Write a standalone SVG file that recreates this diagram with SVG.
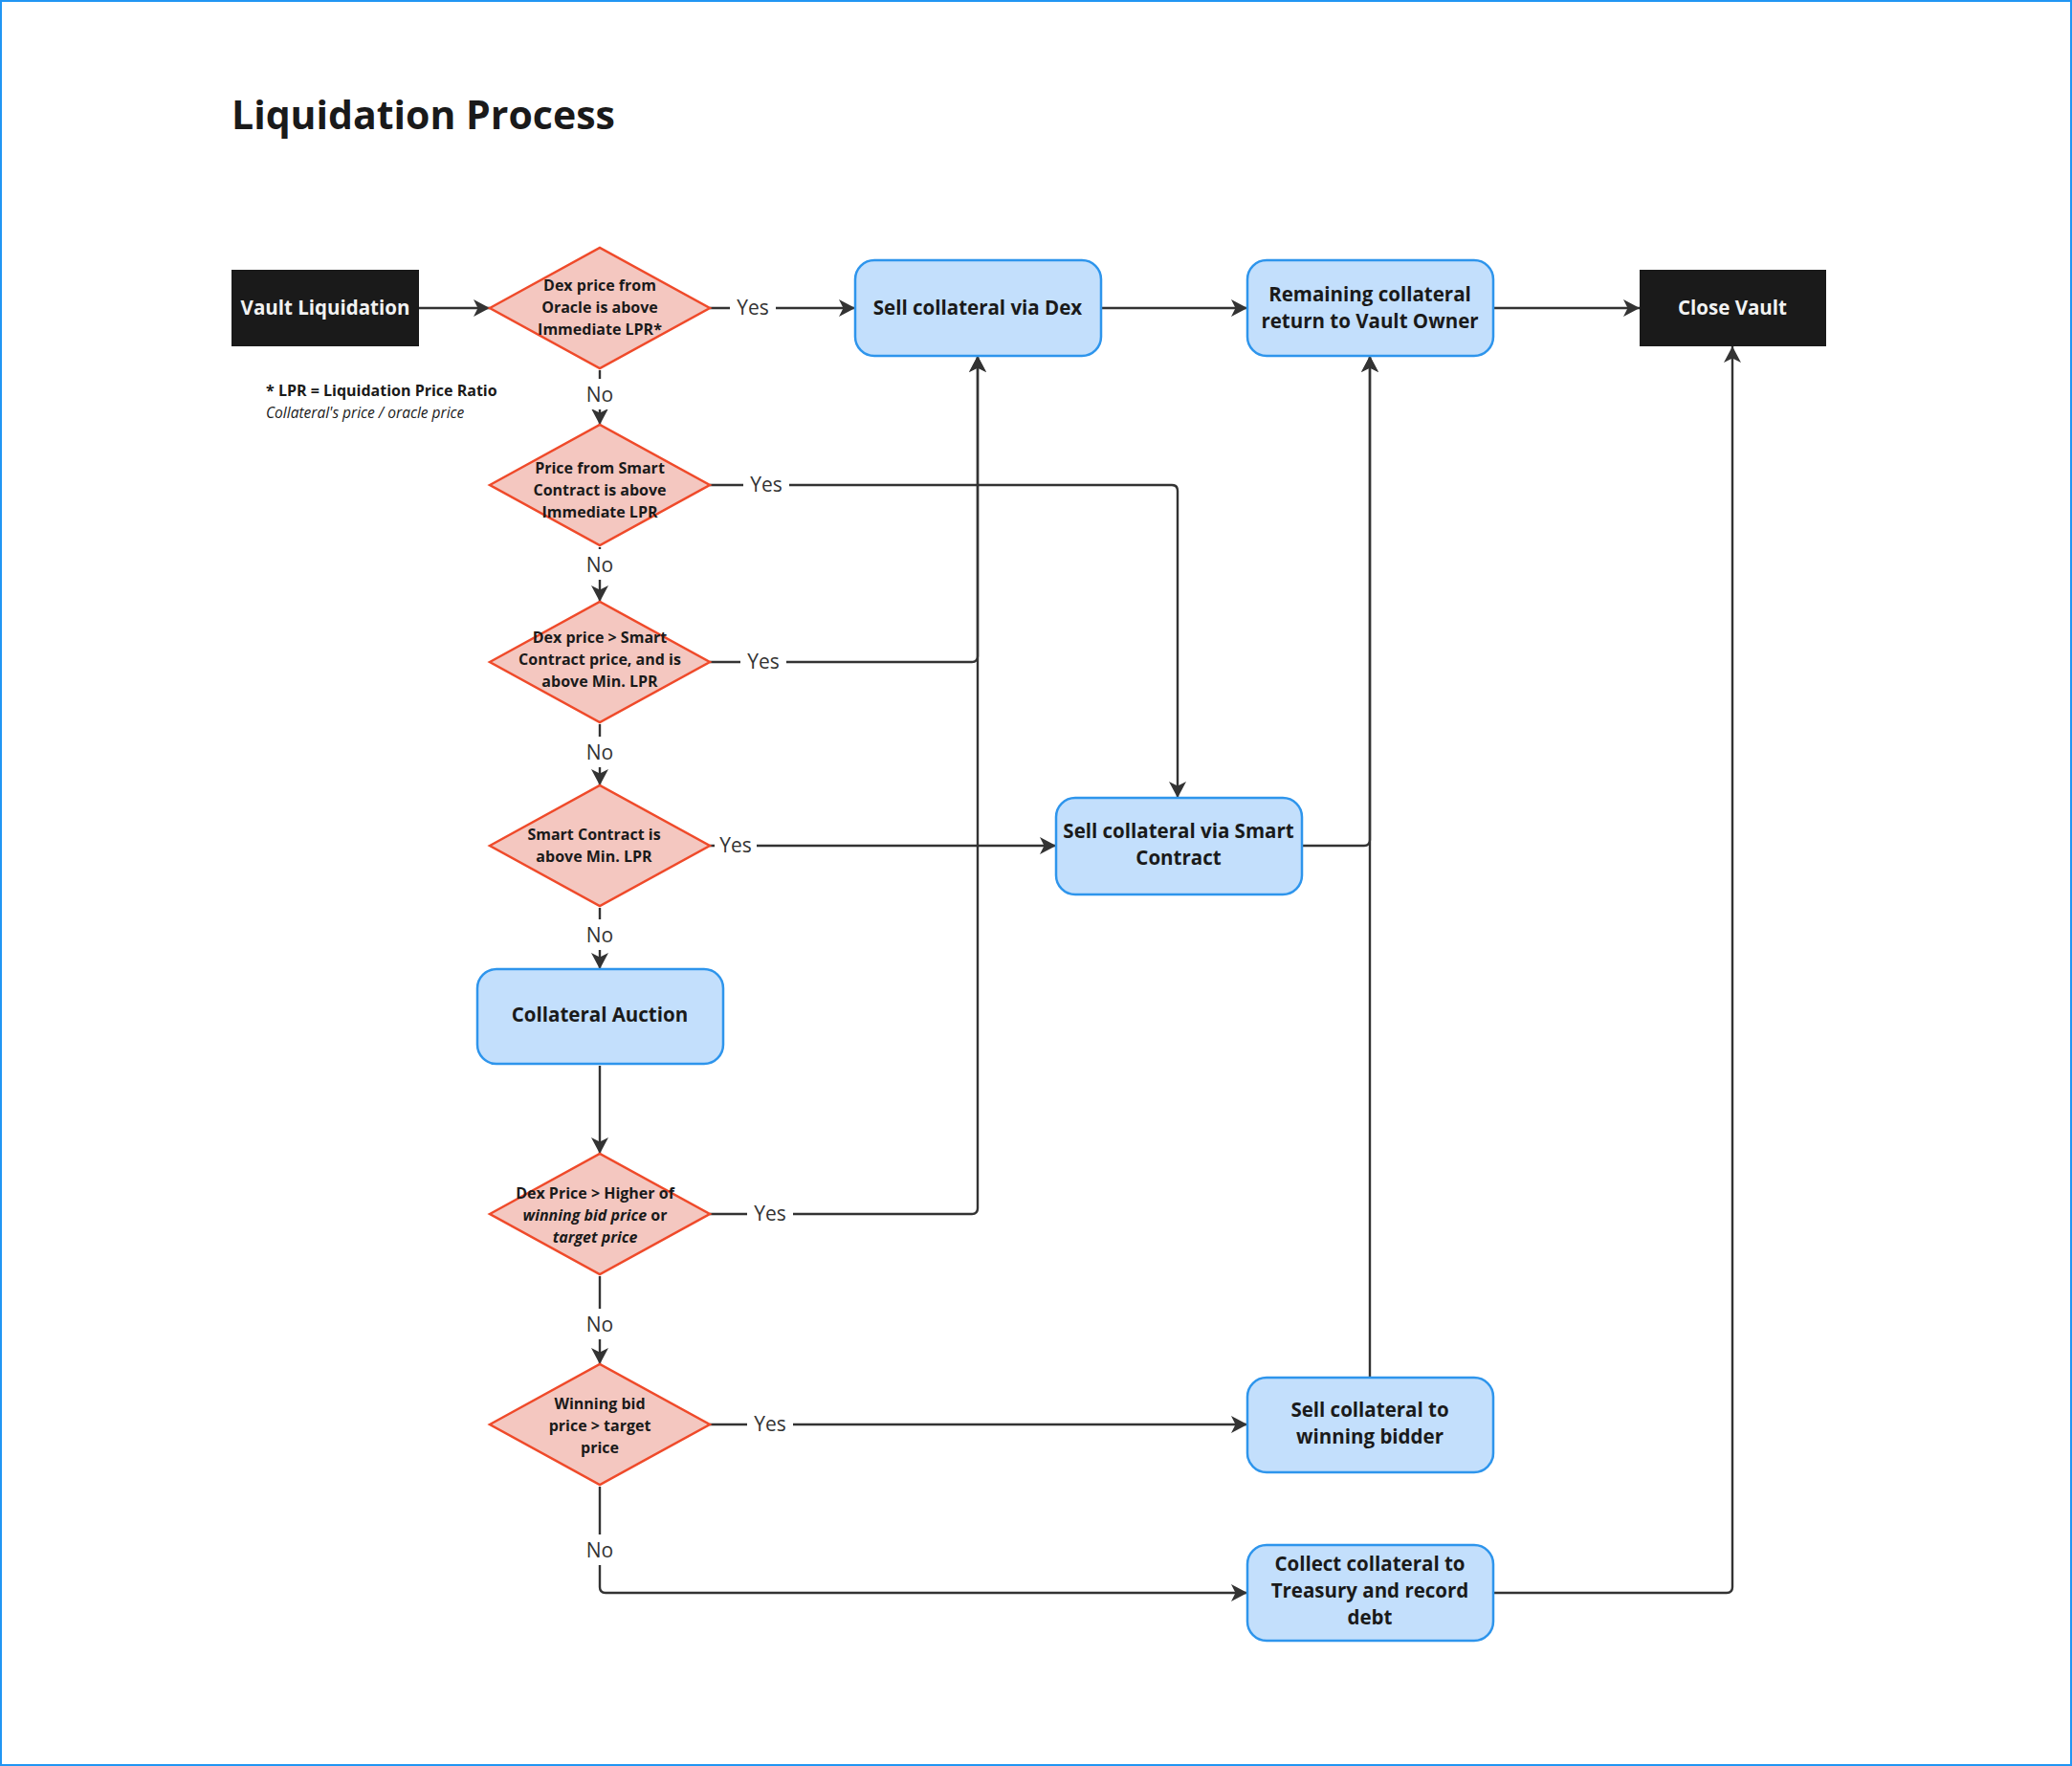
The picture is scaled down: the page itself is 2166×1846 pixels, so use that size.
<svg xmlns="http://www.w3.org/2000/svg" width="2166" height="1846" viewBox="0 0 2166 1846">
<style>
text{font-family:"Open Sans","Noto Sans","Liberation Sans",sans-serif}
.title{font-size:41px;font-weight:700;fill:#1a1a1a}
.dark rect{fill:#1a1a1a}
.dark text{fill:#f2f2f2;font-size:20.5px;font-weight:700;text-anchor:middle}
.proc rect{fill:#c3dffc;stroke:#2e95ec;stroke-width:2.5}
.proc text{fill:#1a1a1a;font-size:20.5px;font-weight:700;text-anchor:middle}
.dec polygon{fill:#f4c7c0;stroke:#ef4a2a;stroke-width:2.5}
.dec text{fill:#1a1a1a;font-size:16px;font-weight:700;text-anchor:middle}
.conn path{fill:none;stroke:#333;stroke-width:2.4}
.lbl rect{fill:#fff}
.lbl text{fill:#333;font-size:21px;text-anchor:middle}
.note{fill:#1a1a1a}
</style>
<defs>
<marker id="ah" markerUnits="userSpaceOnUse" markerWidth="20" markerHeight="20" refX="17" refY="9" orient="auto">
<path d="M0,0 L17,9 L0,18 L4.5,9 z" fill="#333"/>
</marker>
</defs>
<rect x="1" y="1" width="2164" height="1844" fill="#fff" stroke="#2196f3" stroke-width="2"/>
<text class="title" x="242" y="135">Liquidation Process</text>
<g id="footnote">
<text class="note" x="278" y="414" font-weight="700" font-size="16px">* LPR = Liquidation Price Ratio</text>
<text class="note" x="278" y="437" font-style="italic" font-size="15.5px">Collateral's price / oracle price</text>
</g>
<g id="connectors" class="conn">
<path d="M438,322 H512" marker-end="url(#ah)"/>
<path d="M742,322 H894" marker-end="url(#ah)"/>
<path d="M1151,322 H1304" marker-end="url(#ah)"/>
<path d="M1561,322 H1714" marker-end="url(#ah)"/>
<path d="M627,387 V444" marker-end="url(#ah)"/>
<path d="M742,507 H1225 Q1231,507 1231,513 V834" marker-end="url(#ah)"/>
<path d="M627,572 V629" marker-end="url(#ah)"/>
<path d="M742,692 H1016 Q1022,692 1022,686 V372" marker-end="url(#ah)"/>
<path d="M627,757 V821" marker-end="url(#ah)"/>
<path d="M742,884 H1104" marker-end="url(#ah)"/>
<path d="M627,949 V1013" marker-end="url(#ah)"/>
<path d="M627,1114 V1206" marker-end="url(#ah)"/>
<path d="M742,1269 H1016 Q1022,1269 1022,1263 V372" marker-end="url(#ah)"/>
<path d="M627,1334 V1426" marker-end="url(#ah)"/>
<path d="M742,1489 H1304" marker-end="url(#ah)"/>
<path d="M627,1554 V1659 Q627,1665 633,1665 H1304" marker-end="url(#ah)"/>
<path d="M1361,884 H1426 Q1432,884 1432,878 V372" marker-end="url(#ah)"/>
<path d="M1432,1440 V372" marker-end="url(#ah)"/>
<path d="M1561,1665 H1805 Q1811,1665 1811,1659 V362" marker-end="url(#ah)"/>
</g>
<g id="labels" class="lbl">
<rect x="763" y="309" width="48" height="26"/><text x="787" y="329">Yes</text>
<rect x="777" y="494" width="48" height="26"/><text x="801" y="514">Yes</text>
<rect x="774" y="679" width="48" height="26"/><text x="798" y="699">Yes</text>
<rect x="747" y="871" width="44" height="26"/><text x="769" y="891">Yes</text>
<rect x="781" y="1256" width="48" height="26"/><text x="805" y="1276">Yes</text>
<rect x="781" y="1476" width="48" height="26"/><text x="805" y="1496">Yes</text>
<rect x="610" y="396" width="34" height="32"/><text x="627" y="420">No</text>
<rect x="610" y="574" width="34" height="32"/><text x="627" y="598">No</text>
<rect x="610" y="770" width="34" height="32"/><text x="627" y="794">No</text>
<rect x="610" y="961" width="34" height="32"/><text x="627" y="985">No</text>
<rect x="610" y="1368" width="34" height="32"/><text x="627" y="1392">No</text>
<rect x="610" y="1604" width="34" height="32"/><text x="627" y="1628">No</text>
</g>
<g id="vault" class="dark"><rect x="242" y="282" width="196" height="80"/><text x="340" y="329">Vault Liquidation</text></g>
<g id="close" class="dark"><rect x="1714" y="282" width="195" height="80"/><text x="1811" y="329">Close Vault</text></g>
<g id="sellDex" class="proc"><rect x="894" y="272" width="257" height="100" rx="20"/><text x="1022" y="329">Sell collateral via Dex</text></g>
<g id="remaining" class="proc"><rect x="1304" y="272" width="257" height="100" rx="20"/><text x="1432" y="315">Remaining collateral</text><text x="1432" y="343">return to Vault Owner</text></g>
<g id="sellSC" class="proc"><rect x="1104" y="834" width="257" height="101" rx="20"/><text x="1232" y="876">Sell collateral via Smart</text><text x="1232" y="904">Contract</text></g>
<g id="auction" class="proc"><rect x="499" y="1013" width="257" height="99" rx="20"/><text x="627" y="1068">Collateral Auction</text></g>
<g id="bidder" class="proc"><rect x="1304" y="1440" width="257" height="99" rx="20"/><text x="1432" y="1481">Sell collateral to</text><text x="1432" y="1509">winning bidder</text></g>
<g id="collect" class="proc"><rect x="1304" y="1615" width="257" height="100" rx="20"/><text x="1432" y="1642">Collect collateral to</text><text x="1432" y="1670">Treasury and record</text><text x="1432" y="1698">debt</text></g>
<g id="d1" class="dec"><polygon points="512,322 627,259 742,322 627,385"/><text x="627" y="304">Dex price from</text><text x="627" y="327">Oracle is above</text><text x="627" y="350">Immediate LPR*</text></g>
<g id="d2" class="dec"><polygon points="512,507 627,444 742,507 627,570"/><text x="627" y="495">Price from Smart</text><text x="627" y="518">Contract is above</text><text x="627" y="541">Immediate LPR</text></g>
<g id="d3" class="dec"><polygon points="512,692 627,629 742,692 627,755"/><text x="627" y="672">Dex price &gt; Smart</text><text x="627" y="695">Contract price, and is</text><text x="627" y="718">above Min. LPR</text></g>
<g id="d4" class="dec"><polygon points="512,884 627,821 742,884 627,947"/><text x="621" y="878">Smart Contract is</text><text x="621" y="901">above Min. LPR</text></g>
<g id="d5" class="dec"><polygon points="512,1269 627,1206 742,1269 627,1332"/><text x="622" y="1253">Dex Price &gt; Higher of</text><text x="622" y="1276"><tspan font-style="italic">winning bid price</tspan> or</text><text x="622" y="1299" font-style="italic">target price</text></g>
<g id="d6" class="dec"><polygon points="512,1489 627,1426 742,1489 627,1552"/><text x="627" y="1473">Winning bid</text><text x="627" y="1496">price &gt; target</text><text x="627" y="1519">price</text></g>
</svg>
